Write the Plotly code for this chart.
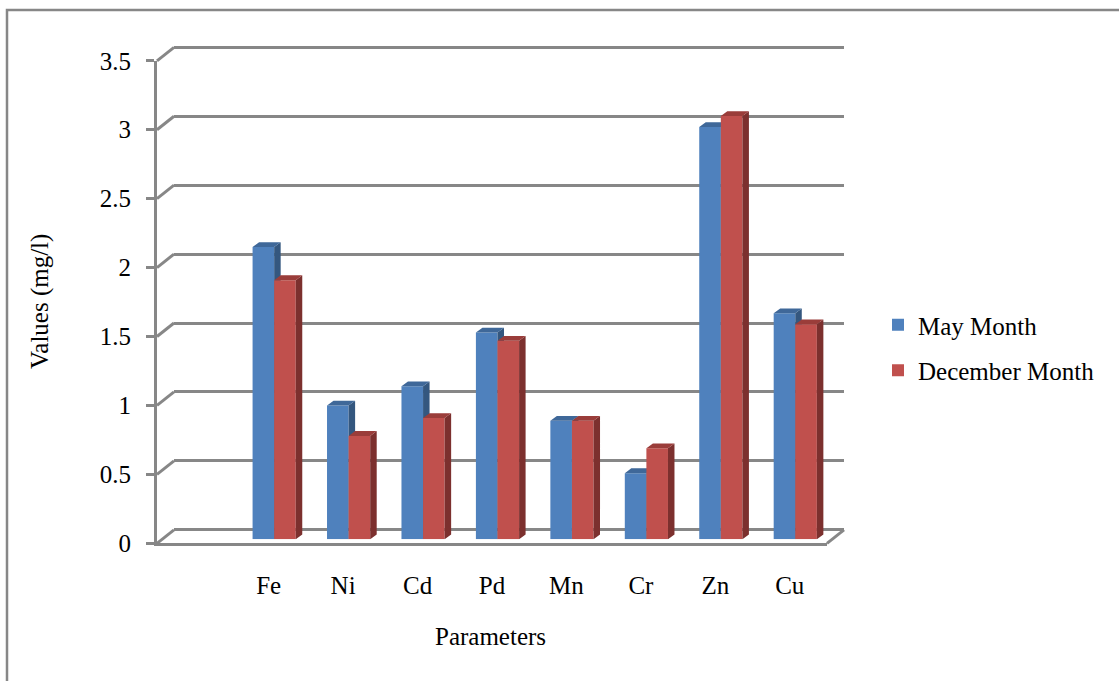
import plotly.graph_objects as go

# ---------------- data ----------------
categories = ["Fe", "Ni", "Cd", "Pd", "Mn", "Cr", "Zn", "Cu"]
may_month = [2.12, 0.97, 1.11, 1.50, 0.86, 0.48, 2.99, 1.64]
december_month = [1.88, 0.75, 0.88, 1.44, 0.86, 0.66, 3.07, 1.56]
y_ticks = [0, 0.5, 1, 1.5, 2, 2.5, 3, 3.5]
y_tick_labels = ["0", "0.5", "1", "1.5", "2", "2.5", "3", "3.5"]
series_names = ["May Month", "December Month"]
x_title = "Parameters"
y_title = "Values (mg/l)"

# ---------------- geometry / style ----------------
W, H = 1119, 681
FONT = "Liberation Serif"
FS = 25
GRAY = "#878787"
BLUE, BLUE_TOP, BLUE_SIDE = "#4F81BD", "#3F6899", "#34577F"
RED, RED_TOP, RED_SIDE = "#C0504D", "#9A3D3A", "#7C302E"

X_LO, X_HI = -1.5, 7.5          # one empty slot before first category
Y_LO, Y_HI = 0, 3.5
FRONT_L, FRONT_R = 157, 827     # px of front plane
FRONT_Y0, FRONT_YTOP = 543.3, 60.8
BACK_DX, BACK_DY = 17, 13.5     # back-wall offset (px)
BAR_DX, BAR_DY = 5.5, 4.0       # bar plane offset (px)
DEPTH_X, DEPTH_Y = 6.5, 4.8     # bar depth (px)
BW = 0.29                       # bar width (category units)

PXU = (FRONT_R - FRONT_L) / (X_HI - X_LO)
PYU = (FRONT_Y0 - FRONT_YTOP) / (Y_HI - Y_LO)


def fx(px):
    return px / W


def fy(py):
    return 1 - py / H


def ydom(y0px, lo, hi):
    # paper domain of a y-axis whose value 0 sits at pixel row y0px
    return [fy(y0px - lo * PYU), fy(y0px - hi * PYU)]


def xdom(leftpx):
    return [fx(leftpx), fx(leftpx + (X_HI - X_LO) * PXU)]


idx = list(range(len(categories)))
fig = go.Figure()

# front axes (labels, axis lines)
fig.add_trace(go.Scatter(x=idx, y=[None] * len(idx), xaxis="x", yaxis="y",
                         showlegend=False, hoverinfo="skip"))
# back wall axes (gridlines)
fig.add_trace(go.Scatter(x=idx, y=[None] * len(idx), xaxis="x2", yaxis="y2",
                         showlegend=False, hoverinfo="skip"))

DXu = DEPTH_X / PXU
DYu = DEPTH_Y / PYU


def faces(values, offset):
    side_x, side_y, top_x, top_y = [], [], [], []
    for i, v in zip(idx, values):
        xl = i + offset
        xr = xl + BW
        side_x += [xr, xr + DXu, xr + DXu, xr, xr, None]
        side_y += [0, DYu, v + DYu, v, 0, None]
        top_x += [xl, xl + DXu, xr + DXu, xr, xl, None]
        top_y += [v, v + DYu, v + DYu, v, v, None]
    return side_x, side_y, top_x, top_y


specs = [
    (may_month, -BW, "x3", "y3", BLUE, BLUE_TOP, BLUE_SIDE, series_names[0], "may"),
    (december_month, 0.0, "x4", "y4", RED, RED_TOP, RED_SIDE, series_names[1], "dec"),
]
for vals, off, xa, ya, c, ctop, cside, name, grp in specs:
    fig.add_trace(go.Bar(x=idx, y=vals, width=BW, offset=off, xaxis=xa, yaxis=ya,
                         marker=dict(color=c, line=dict(width=0)), name=name,
                         legendgroup=grp, hoverinfo="skip"))
    sx, sy, tx, ty = faces(vals, off)
    fig.add_trace(go.Scatter(x=sx, y=sy, xaxis=xa, yaxis=ya, mode="lines", fill="toself",
                             fillcolor=cside, line=dict(width=0, color=cside),
                             showlegend=False, hoverinfo="skip"))
    fig.add_trace(go.Scatter(x=tx, y=ty, xaxis=xa, yaxis=ya, mode="lines", fill="toself",
                             fillcolor=ctop, line=dict(width=0, color=ctop),
                             showlegend=False, hoverinfo="skip"))

hidden = dict(visible=False, fixedrange=True, automargin=False)
G_LO, G_HI = -0.05, 3.55

fig.update_layout(
    width=W, height=H,
    margin=dict(l=0, r=0, t=0, b=0, pad=0, autoexpand=False),
    paper_bgcolor="white", plot_bgcolor="rgba(0,0,0,0)",
    barmode="overlay",
    font=dict(family=FONT, size=FS, color="black"),
    showlegend=True,
    legend=dict(x=fx(878), y=fy(302), xanchor="left", yanchor="top",
                traceorder="grouped", tracegroupgap=10,
                font=dict(family=FONT, size=FS, color="black"),
                bgcolor="rgba(0,0,0,0)"),
    xaxis=dict(domain=xdom(FRONT_L), range=[X_LO, X_HI], anchor="y",
               tickmode="array", tickvals=idx, ticktext=categories,
               showline=True, linecolor=GRAY, linewidth=3, showgrid=False,
               zeroline=False, ticks="", ticklabelstandoff=18,
               automargin=False, fixedrange=True),
    yaxis=dict(domain=ydom(FRONT_Y0, Y_LO, Y_HI), range=[Y_LO, Y_HI], anchor="x",
               tickmode="array", tickvals=y_ticks, ticktext=y_tick_labels,
               showline=True, linecolor=GRAY, linewidth=3, showgrid=False,
               zeroline=False, ticks="outside", ticklen=8, tickwidth=3,
               tickcolor=GRAY, ticklabelstandoff=10,
               automargin=False, fixedrange=True),
    xaxis2=dict(domain=xdom(FRONT_L + BACK_DX), range=[X_LO, X_HI], anchor="y2",
                **hidden),
    yaxis2=dict(domain=ydom(FRONT_Y0 - BACK_DY, G_LO, G_HI), range=[G_LO, G_HI],
                anchor="x2", visible=True, showticklabels=False, ticks="",
                showline=False, showgrid=True, gridcolor=GRAY, gridwidth=3,
                zeroline=True, zerolinecolor=GRAY, zerolinewidth=3,
                tickmode="array", tickvals=y_ticks, fixedrange=True, automargin=False),
    xaxis3=dict(domain=xdom(FRONT_L + BAR_DX), range=[X_LO, X_HI], anchor="y3", **hidden),
    yaxis3=dict(domain=ydom(FRONT_Y0 - BAR_DY, Y_LO, Y_HI), range=[Y_LO, Y_HI],
                anchor="x3", **hidden),
    xaxis4=dict(range=[X_LO, X_HI], anchor="y4", overlaying="x3", **hidden),
    yaxis4=dict(range=[Y_LO, Y_HI], anchor="x4", overlaying="y3", **hidden),
)

# axis titles
fig.add_annotation(text=x_title, xref="paper", yref="paper", x=fx(490), y=fy(636),
                   xanchor="center", yanchor="middle", showarrow=False,
                   font=dict(family=FONT, size=FS, color="black"))
fig.add_annotation(text=y_title, xref="paper", yref="paper", x=fx(40), y=fy(302),
                   xanchor="center", yanchor="middle", showarrow=False, textangle=-90,
                   font=dict(family=FONT, size=FS, color="black"))

# diagonal connectors from front ticks to back wall (computed from tick values)
shapes = []
for v in y_ticks:
    py = FRONT_Y0 - v * PYU
    shapes.append(dict(type="line", xref="paper", yref="paper",
                       x0=fx(FRONT_L), y0=fy(py), x1=fx(FRONT_L + BACK_DX), y1=fy(py - BACK_DY),
                       line=dict(color=GRAY, width=3)))
shapes.append(dict(type="line", xref="paper", yref="paper",
                   x0=fx(FRONT_R), y0=fy(FRONT_Y0), x1=fx(FRONT_R + BACK_DX), y1=fy(FRONT_Y0 - BACK_DY),
                   line=dict(color=GRAY, width=3)))
# outer chart frame
shapes.append(dict(type="rect", xref="paper", yref="paper",
                   x0=fx(7), y0=fy(10), x1=fx(1135), y1=fy(700),
                   line=dict(color=GRAY, width=2.5), fillcolor="rgba(0,0,0,0)", layer="below"))
fig.update_layout(shapes=shapes)

fig.write_html("out.html", config={"displayModeBar": False},
               post_script="document.body.style.margin='0px';")
